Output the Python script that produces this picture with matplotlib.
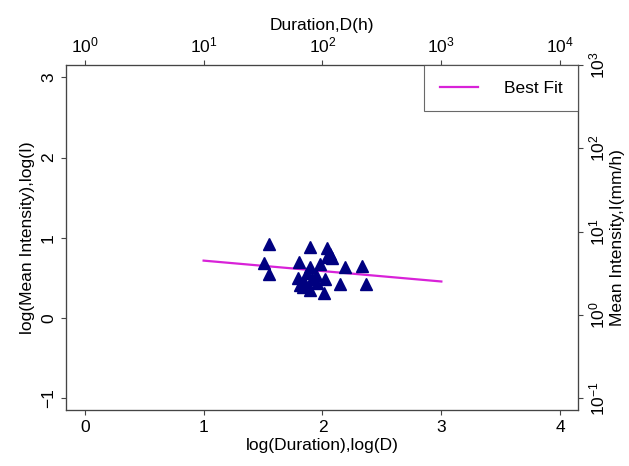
import matplotlib.pyplot as plt
import numpy as np

plt.rcParams['font.family'] = ['Liberation Sans', 'DejaVu Sans']

# log(D) and log(I) of the events
log_d = [1.553, 1.511, 1.553, 1.899, 2.034, 2.062, 2.082, 2.042, 1.800, 1.977,
         1.893, 2.188, 2.335, 1.791, 1.842, 1.913, 2.025, 1.899, 2.011, 2.146,
         2.363, 1.814, 1.955, 1.871, 1.949, 1.840]
log_i = [0.922, 0.681, 0.549, 0.889, 0.868, 0.793, 0.752, 0.764, 0.700, 0.680,
         0.639, 0.639, 0.647, 0.497, 0.452, 0.488, 0.488, 0.349, 0.315, 0.419,
         0.419, 0.411, 0.432, 0.556, 0.540, 0.390]

# best fit line, drawn from log(D)=1 to 3
fit_x = [1, 3]
fit_intercept = 0.846
fit_slope = -0.13

fig = plt.figure(figsize=(6.29, 4.66), dpi=100)
ax = fig.add_axes([0.1045, 0.120, 0.8145, 0.7405])

fx = np.array(fit_x)
ax.plot(fx, fit_intercept + fit_slope * fx, color='#d822d8', lw=1.6, label='Best Fit', zorder=2)
ax.plot(log_d, log_i, '^', color='#000080', ms=8.2, ls='none', zorder=3)

ax.set_xlim(-0.16, 4.15)
ax.set_ylim(-1.146, 3.153)
ax.set_xticks([0, 1, 2, 3, 4])
ax.set_yticks([-1, 0, 1, 2, 3])
ax.tick_params(labelsize=12.5, color='#444444')
ax.set_xlabel('log(Duration),log(D)', fontsize=12.5, labelpad=2)
ax.set_ylabel('log(Mean Intensity),log(I)', fontsize=12.5, labelpad=4)

# top axis: duration in hours
ax_top = ax.twiny()
ax_top.set_xscale('log')
ax_top.set_xlim(10 ** -0.16, 10 ** 4.15)
ax_top.set_xticks([1, 10, 100, 1000, 10000])
ax_top.minorticks_off()
ax_top.tick_params(labelsize=12.5, color='#444444')
ax_top.set_xlabel('Duration,D(h)', fontsize=12.5, labelpad=4)

# right axis: intensity in mm/h
ax_right = ax.twinx()
ax_right.set_yscale('log')
ax_right.set_ylim(10 ** -1.14, 10 ** 3.0)
ax_right.set_yticks([0.1, 1, 10, 100, 1000])
ax_right.minorticks_off()
ax_right.tick_params(labelsize=12.5, color='#444444')
ax_right.set_ylabel('Mean Intensity,I(mm/h)', fontsize=12.5, labelpad=2)

for a in (ax, ax_top, ax_right):
    for s in a.spines.values():
        s.set_color('#444444')

leg = ax_right.legend(*ax.get_legend_handles_labels(), loc='upper right', fontsize=12.5,
                      fancybox=False, edgecolor='#444444', borderaxespad=0,
                      borderpad=0.9, handlelength=2.2, handletextpad=1.5)
leg.get_frame().set_linewidth(0.8)

# rotate the y tick labels on both sides
fig.canvas.draw()
for t in ax.yaxis.get_major_ticks():
    t.label1.set_rotation(90)
    t.label1.set_va('center')
for t in ax_right.yaxis.get_major_ticks():
    t.label2.set_rotation(90)
    t.label2.set_va('center')

fig.savefig('out.png', dpi=100)
